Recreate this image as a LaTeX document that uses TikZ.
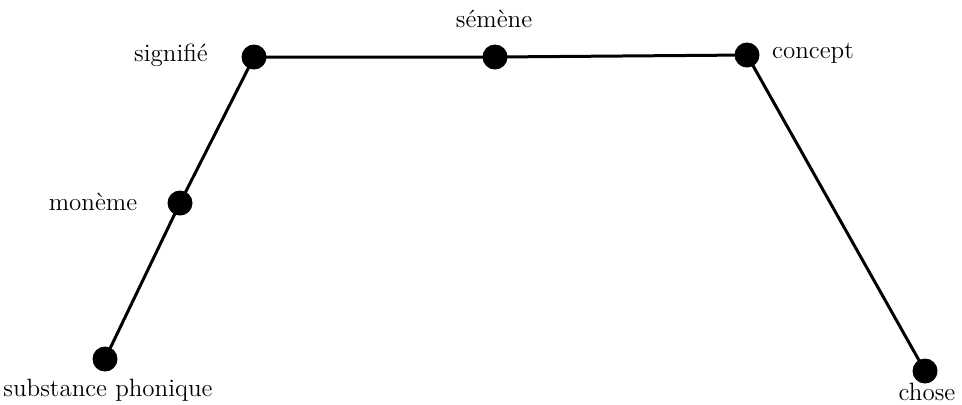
\documentclass[tikz,border=0pt]{standalone}
\begin{document}
\begin{tikzpicture}[x=0.5pt,y=-0.5pt,
  dot/.style={circle,fill=black,inner sep=0pt,minimum size=12.5pt},
  lbl/.style={font=\fontsize{12.5}{14}\selectfont,inner sep=0pt},
  edge/.style={line width=1.5pt}]
\useasboundingbox (0,0) rectangle (962,404);
\node[dot] (sig) at (254,57) {};
\node[dot] (sem) at (495,57) {};
\node[dot] (con) at (747,55) {};
\node[dot] (mon) at (180,203) {};
\node[dot] (sub) at (105,359) {};
\node[dot] (cho) at (925,371) {};
\draw[edge] (sub.center) -- (mon.center) -- (sig.center) -- (sem.center) -- (con.center) -- (cho.center);
\node[lbl] (tsig) at (171,55) {signifié};
\node[lbl] (tsem) at (494,19) {sémène};
\node[lbl] (tcon) at (813,53) {concept};
\node[lbl] (tmon) at (93,202) {monème};
\node[lbl] (tsub) at (108,390) {substance phonique};
\node[lbl] (tcho) at (927,392) {chose};
\end{tikzpicture}
\end{document}
